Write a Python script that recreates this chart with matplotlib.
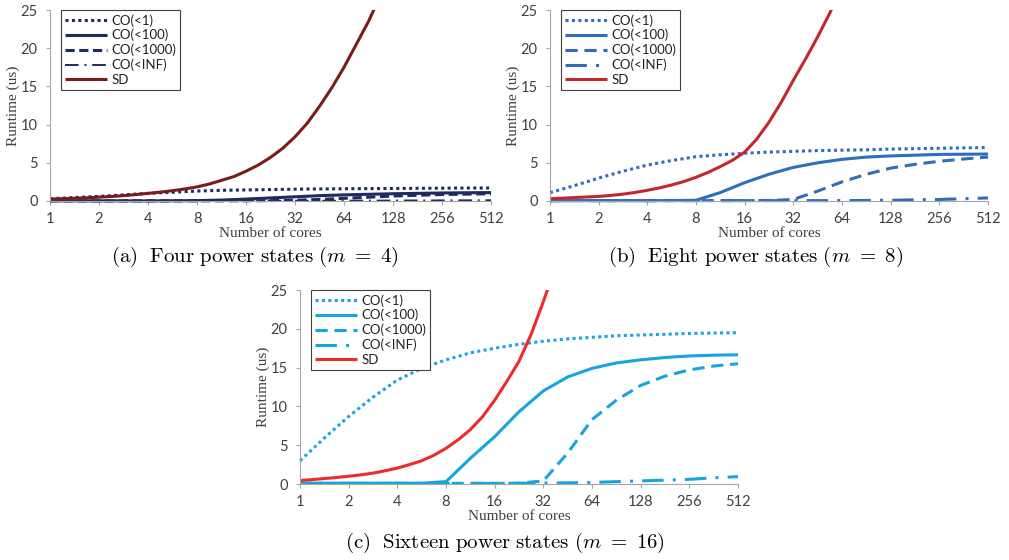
import matplotlib
matplotlib.use("Agg")
import matplotlib.pyplot as plt

plt.rcParams["mathtext.fontset"] = "cm"

cores = [1, 1.41, 2, 2.83, 4, 5.66, 8, 11.3, 16, 22.6, 32, 45.3, 64, 90.5, 128, 181, 256, 362, 512]
sd_cores = [1, 1.19, 1.41, 1.68, 2, 2.38, 2.83, 3.36, 4, 4.76, 5.66, 6.73, 8, 9.51, 11.3, 13.5,
            16, 19.0, 22.6, 26.9, 32, 38.1, 45.3, 53.8, 64, 76.1, 90.5, 107.6, 128]
xticks = [1, 2, 4, 8, 16, 32, 64, 128, 256, 512]
labels = ["CO(<1)", "CO(<100)", "CO(<1000)", "CO(<INF)", "SD"]

# (a) m = 4
a_co1 = [0.3, 0.45, 0.6, 0.8, 1.0, 1.15, 1.3, 1.4, 1.45, 1.5, 1.55, 1.58, 1.6, 1.62, 1.64, 1.66, 1.68, 1.7, 1.7]
a_co100 = [0.02, 0.02, 0.02, 0.02, 0.02, 0.03, 0.05, 0.12, 0.25, 0.4, 0.55, 0.7, 0.8, 0.88, 0.95, 1.0, 1.05, 1.08, 1.1]
a_co1000 = [0.02, 0.02, 0.02, 0.02, 0.02, 0.02, 0.02, 0.02, 0.03, 0.05, 0.1, 0.2, 0.35, 0.5, 0.65, 0.75, 0.85, 0.9, 0.95]
a_coinf = [0.02, 0.02, 0.02, 0.02, 0.02, 0.02, 0.02, 0.02, 0.02, 0.02, 0.03, 0.03, 0.04, 0.05, 0.06, 0.07, 0.08, 0.09, 0.1]
a_sd = [0.25, 0.3, 0.35, 0.42, 0.5, 0.59, 0.7, 0.84, 1.0, 1.16, 1.35, 1.58, 1.85, 2.22, 2.7, 3.2,
        3.9, 4.7, 5.7, 6.9, 8.4, 10.2, 12.4, 14.8, 17.5, 20.5, 23.5, 27.0, 31.0]

# (b) m = 8
b_co1 = [1.1, 2.0, 3.0, 3.9, 4.7, 5.3, 5.8, 6.05, 6.25, 6.4, 6.5, 6.6, 6.65, 6.7, 6.8, 6.85, 6.9, 6.95, 7.0]
b_co100 = [0.05, 0.05, 0.05, 0.05, 0.05, 0.05, 0.1, 1.1, 2.4, 3.5, 4.4, 5.0, 5.45, 5.75, 5.9, 6.0, 6.1, 6.12, 6.15]
b_co1000 = [0.05, 0.05, 0.05, 0.05, 0.05, 0.05, 0.05, 0.05, 0.05, 0.07, 0.2, 1.3, 2.5, 3.5, 4.3, 4.8, 5.2, 5.5, 5.75]
b_coinf = [0.05, 0.05, 0.05, 0.05, 0.05, 0.05, 0.05, 0.05, 0.05, 0.05, 0.05, 0.05, 0.05, 0.07, 0.1, 0.15, 0.2, 0.3, 0.4]
b_sd = [0.3, 0.37, 0.45, 0.52, 0.6, 0.73, 0.9, 1.12, 1.4, 1.72, 2.1, 2.55, 3.1, 3.75, 4.5, 5.35,
        6.4, 8.1, 10.3, 12.9, 15.8, 18.6, 21.5, 24.6, 28.0, 32, 36, 40, 44]

# (c) m = 16
c_co1 = [3.0, 5.9, 8.7, 11.2, 13.4, 14.9, 16.0, 16.9, 17.5, 18.0, 18.4, 18.7, 18.9, 19.1, 19.2, 19.3, 19.4, 19.45, 19.5]
c_co100 = [0.1, 0.1, 0.1, 0.1, 0.1, 0.1, 0.3, 3.3, 6.1, 9.3, 12.0, 13.8, 14.9, 15.6, 16.0, 16.3, 16.5, 16.6, 16.65]
c_co1000 = [0.08, 0.08, 0.08, 0.08, 0.08, 0.08, 0.08, 0.08, 0.08, 0.1, 0.4, 4.0, 8.3, 10.8, 12.7, 13.9, 14.7, 15.2, 15.5]
c_coinf = [0.08, 0.08, 0.08, 0.08, 0.08, 0.08, 0.08, 0.08, 0.08, 0.1, 0.12, 0.15, 0.2, 0.3, 0.4, 0.5, 0.6, 0.8, 0.95]
c_sd = [0.45, 0.57, 0.7, 0.84, 1.0, 1.18, 1.4, 1.7, 2.05, 2.5, 3.0, 3.7, 4.6, 5.7, 7.0, 8.7,
        10.8, 13.2, 15.8, 19.3, 23.5, 28.0, 33.0, 38, 43, 48, 53, 58, 63]

tick_font = "Lato"
serif_font = "Liberation Serif"


def panel(ax, series, co_color, sd_color, inf_lw, dash_style):
    styles = [(0, (1, 1.1)), "-", dash_style, (0, (7, 3, 1, 3)), "-"]
    for i, (vals, lab) in enumerate(zip(series, labels)):
        color = sd_color if lab == "SD" else co_color
        lw = inf_lw if lab == "CO(<INF)" else 2.2
        xs = sd_cores if lab == "SD" else cores
        ax.plot(xs, vals, color=color, lw=lw, linestyle=styles[i], label=lab,
                clip_on=(lab == "SD"), solid_capstyle="butt", dash_capstyle="butt",
                solid_joinstyle="round")
    ax.set_xscale("log", base=2)
    ax.set_xlim(1, 512)
    ax.set_ylim(0, 25)
    ax.set_xticks(xticks)
    ax.set_xticklabels([str(t) for t in xticks])
    ax.minorticks_off()
    ax.set_yticks([0, 5, 10, 15, 20, 25])
    for s in ["top", "right"]:
        ax.spines[s].set_visible(False)
    for s in ["left", "bottom"]:
        ax.spines[s].set_color("#a6a6a6")
        ax.spines[s].set_linewidth(0.8)
    ax.tick_params(length=3, width=0.8, color="#a6a6a6", labelsize=10.5,
                   labelcolor="#404040")
    ax.tick_params(axis="x", pad=5)
    ax.tick_params(axis="y", pad=6)
    for t in ax.get_xticklabels() + ax.get_yticklabels():
        t.set_fontfamily(tick_font)
    ax.set_xlabel("Number of cores", fontfamily=serif_font, fontsize=11,
                  color="#404040", labelpad=1)
    ax.set_ylabel("Runtime (us)", fontfamily=serif_font, fontsize=11,
                  color="#404040")
    ax.yaxis.set_label_coords(-0.068, 0.5)
    leg = ax.legend(loc="upper left", bbox_to_anchor=(0.025, 1.0), borderaxespad=0,
                    fancybox=False, edgecolor="#404040", framealpha=1,
                    prop={"family": tick_font, "size": 9.5}, handlelength=3.2,
                    handletextpad=0.3, labelspacing=0.18, borderpad=0.3)
    leg.get_frame().set_linewidth(0.8)
    for t in leg.get_texts():
        t.set_color("#202020")


fig = plt.figure(figsize=(10.09, 5.6), dpi=100)
W, H = 1009, 560

ax_a = fig.add_axes([50 / W, (H - 201) / H, 441 / W, 191 / H])
panel(ax_a, [a_co1, a_co100, a_co1000, a_coinf, a_sd], "#1e2b5f", "#7a1c1c", 1.4, (0, (3, 1.5)))

ax_b = fig.add_axes([550 / W, (H - 201) / H, 438 / W, 191 / H])
panel(ax_b, [b_co1, b_co100, b_co1000, b_coinf, b_sd], "#2f6dbd", "#c4262e", 2.2, (0, (4, 2.2)))

ax_c = fig.add_axes([300 / W, (H - 484) / H, 438 / W, 194 / H])
panel(ax_c, [c_co1, c_co100, c_co1000, c_coinf, c_sd], "#17a5de", "#ee2b2b", 2.2, (0, (4, 2.2)))

fig.text(255 / W, (H - 257) / H, r"$\mathrm{(a)\ \ Four\ power\ states\ (}m\ =\ 4\mathrm{)}$",
         ha="center", va="center", fontsize=15)
fig.text(756 / W, (H - 257) / H, r"$\mathrm{(b)\ \ Eight\ power\ states\ (}m\ =\ 8\mathrm{)}$",
         ha="center", va="center", fontsize=15)
fig.text(505 / W, (H - 543) / H, r"$\mathrm{(c)\ \ Sixteen\ power\ states\ (}m\ =\ 16\mathrm{)}$",
         ha="center", va="center", fontsize=15)

fig.savefig("out.png", dpi=100)
